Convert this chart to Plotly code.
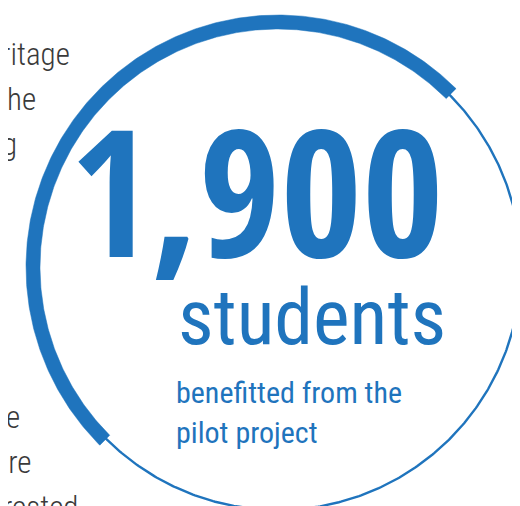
import numpy as np
import plotly.graph_objects as go

# ---- data ----
students = "1,900"
unit_label = "students"
caption_lines = ["benefitted from the", "pilot project"]
highlight_share = 50          # percent of the ring drawn as the thick arc
highlight_start_deg = 45      # where the thick arc starts (math convention)
side_text = ["ritage", "he", "g", "e", "ore", "rested"]
side_text_end_x = [64, 30, 11, 14, 26, 72]
side_text_baseline = [62, 107, 152, 425, 470, 515]

# ---- styling / geometry ----
W, H = 520, 506
BLUE = "#1f74bd"
cx, cy = 270, 259
r_thin = 243
r_in, r_out = 238, 252

fig = go.Figure()

# thin full ring
t = np.linspace(0, 2 * np.pi, 721)
fig.add_trace(go.Scatter(
    x=cx + r_thin * np.cos(t), y=cy - r_thin * np.sin(t),
    mode="lines", line=dict(color=BLUE, width=2.4),
    hoverinfo="skip", showlegend=False))

# thick highlighted arc
a0 = np.deg2rad(highlight_start_deg)
a1 = a0 + np.deg2rad(360 * highlight_share / 100)
ta = np.linspace(a0, a1, 361)
xs = np.concatenate([cx + r_out * np.cos(ta), cx + r_in * np.cos(ta[::-1])])
ys = np.concatenate([cy - r_out * np.sin(ta), cy - r_in * np.sin(ta[::-1])])
fig.add_trace(go.Scatter(
    x=xs, y=ys, mode="lines", fill="toself", fillcolor=BLUE,
    line=dict(color=BLUE, width=0.5), hoverinfo="skip", showlegend=False))

big = "Open Sans Condensed, Roboto Condensed, sans-serif"
cond = "Roboto Condensed, sans-serif"

fig.add_annotation(x=248, y=181, text=f"<b>{students}</b>", showarrow=False,
                   xanchor="center", yanchor="middle",
                   font=dict(family=big, size=176, color=BLUE))
fig.add_annotation(x=304, y=309, text=unit_label, showarrow=False,
                   xanchor="center", yanchor="middle",
                   font=dict(family=cond, size=78, color=BLUE))
for i, line in enumerate(caption_lines):
    fig.add_annotation(x=166, y=384 + 40 * i, text=line, showarrow=False,
                       xanchor="left", yanchor="middle",
                       font=dict(family=cond, size=30, color=BLUE))

for txt, ex, bl in zip(side_text, side_text_end_x, side_text_baseline):
    fig.add_annotation(x=ex, y=bl - 16, text=txt, showarrow=False,
                       xanchor="right", yanchor="middle",
                       font=dict(family=cond, size=31, color="#3a3a3a",
                                 weight=300))

fig.update_layout(
    width=W, height=H, margin=dict(l=0, r=0, t=0, b=0),
    paper_bgcolor="white", plot_bgcolor="white",
    xaxis=dict(range=[0, W], visible=False, fixedrange=True),
    yaxis=dict(range=[H, 0], visible=False, fixedrange=True),
)

fig.write_html("out.html", config={"displayModeBar": False})
